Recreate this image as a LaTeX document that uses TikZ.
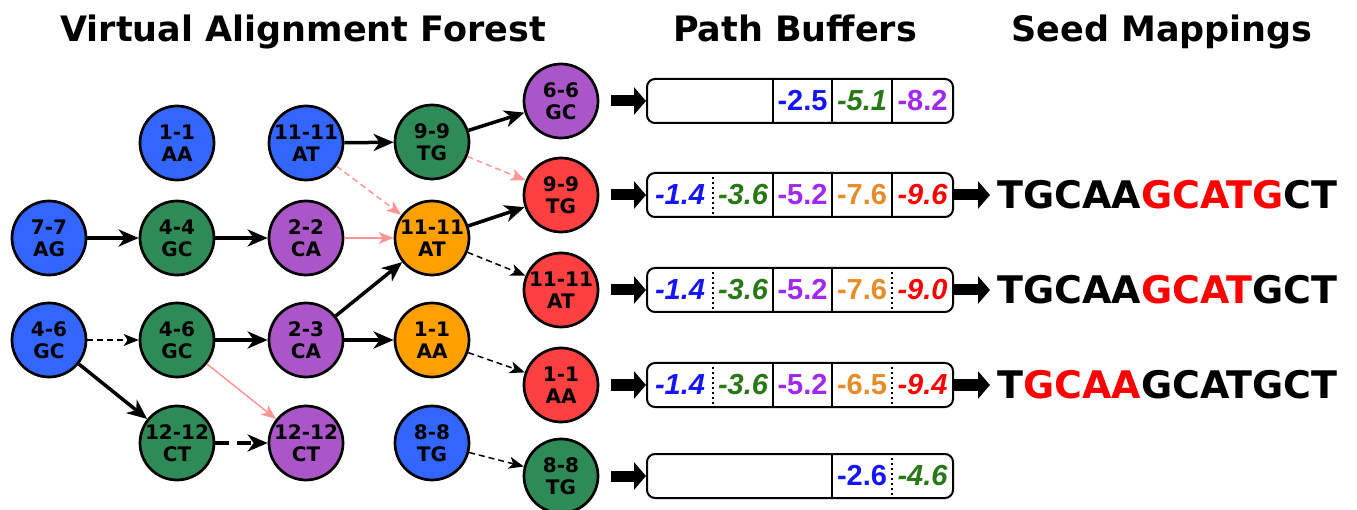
\documentclass[tikz,border=0pt]{standalone}
\usepackage{fontspec}
\setmainfont{DejaVu Sans}
\newfontfamily\numfont{Liberation Sans}
\usetikzlibrary{arrows.meta}
\definecolor{nblue}{RGB}{51,102,255}
\definecolor{ngreen}{RGB}{46,139,87}
\definecolor{npurple}{RGB}{170,85,200}
\definecolor{norange}{RGB}{255,160,0}
\definecolor{nred}{RGB}{255,64,64}
\definecolor{tblue}{RGB}{20,20,255}
\definecolor{tgreen}{RGB}{40,120,20}
\definecolor{tpurple}{RGB}{160,40,240}
\definecolor{torange}{RGB}{230,140,40}
\definecolor{tred}{RGB}{255,0,0}
\definecolor{pinkc}{RGB}{255,150,150}
\tikzset{
  vnode/.style={circle, draw=black, line width=2.7pt, minimum size=74pt, inner sep=0pt, align=center, font=\fontsize{20}{22}\selectfont\bfseries},
  thk/.style={line width=3.5pt, -{Stealth[length=20pt,width=17pt,inset=6pt]}},
  thkd/.style={thk, dash pattern=on 14pt off 8pt},
  dsh/.style={line width=1.5pt, dash pattern=on 6pt off 4pt, -{Stealth[length=15pt,width=12pt,inset=4pt]}},
  pk/.style={draw=pinkc, line width=1.5pt, -{Stealth[length=15pt,width=12pt,inset=4pt]}},
  pkd/.style={pk, dash pattern=on 6pt off 4pt},
  buf/.style={draw, rounded corners=8pt, line width=2pt, minimum width=306pt, minimum height=44pt, inner sep=0pt},
  fat/.style={line width=11pt, -{Triangle[length=12pt,width=27pt]}},
  numi/.style={inner sep=0pt, font=\fontsize{29}{29}\selectfont\numfont\bfseries\itshape},
  numu/.style={inner sep=0pt, font=\fontsize{29}{29}\selectfont\numfont\bfseries},
  sdiv/.style={line width=1.5pt},
  ddiv/.style={line width=1.5pt, dash pattern=on 2pt off 3pt},
  ttl/.style={inner sep=0pt, anchor=base, font=\fontsize{35}{35}\selectfont\bfseries},
  seq/.style={inner sep=0pt, anchor=base west, font=\fontsize{38}{38}\selectfont\bfseries},
}
\begin{document}
\begin{tikzpicture}[x=1pt,y=-1pt]
\useasboundingbox (0,0) rectangle (1357,510);
% titles
\node[ttl] (t1) at (303,42) {Virtual Alignment Forest};
\node[ttl] (t2) at (795,42) {Path Buffers};
\node[ttl] (t3) at (1162,42) {Seed Mappings};
% forest nodes
\node[vnode, fill=nblue] (vb1) at (177,143) {1-1\\AA};
\node[vnode, fill=nblue] (vb2) at (306,143) {11-11\\AT};
\node[vnode, fill=nblue] (vb3) at (49,238) {7-7\\AG};
\node[vnode, fill=nblue] (vb4) at (49,340) {4-6\\GC};
\node[vnode, fill=nblue] (vb5) at (432,443) {8-8\\TG};
\node[vnode, fill=ngreen] (vg1) at (432,142) {9-9\\TG};
\node[vnode, fill=ngreen] (vg2) at (177,238) {4-4\\GC};
\node[vnode, fill=ngreen] (vg3) at (177,340) {4-6\\GC};
\node[vnode, fill=ngreen] (vg4) at (177,443) {12-12\\CT};
\node[vnode, fill=npurple] (vp1) at (306,238) {2-2\\CA};
\node[vnode, fill=npurple] (vp2) at (306,340) {2-3\\CA};
\node[vnode, fill=npurple] (vp3) at (306,443) {12-12\\CT};
\node[vnode, fill=norange] (vo1) at (432,238) {11-11\\AT};
\node[vnode, fill=norange] (vo2) at (432,340) {1-1\\AA};
\node[vnode, fill=npurple] (r1) at (561,101) {6-6\\GC};
\node[vnode, fill=nred] (r2) at (561,195) {9-9\\TG};
\node[vnode, fill=nred] (r3) at (561,290) {11-11\\AT};
\node[vnode, fill=nred] (r4) at (561,385) {1-1\\AA};
\node[vnode, fill=ngreen] (r5) at (561,476) {8-8\\TG};
% forest edges
\draw[thk] (vb2) -- (vg1);
\draw[pkd] (vb2) -- (vo1);
\draw[thk] (vg1) -- (r1);
\draw[pkd] (vg1) -- (r2);
\draw[thk] (vb3) -- (vg2);
\draw[thk] (vg2) -- (vp1);
\draw[pk] (vp1) -- (vo1);
\draw[dsh] (vb4) -- (vg3);
\draw[thk] (vb4) -- (vg4);
\draw[thk] (vg3) -- (vp2);
\draw[pk] (vg3) -- (vp3);
\draw[thkd] (vg4) -- (vp3);
\draw[thk] (vp2) -- (vo1);
\draw[thk] (vp2) -- (vo2);
\draw[thk] (vo1) -- (r2);
\draw[dsh] (vo1) -- (r3);
\draw[dsh] (vo2) -- (r4);
\draw[dsh] (vb5) -- (r5);
% buffers
\node[buf] (b1) at (800,101) {};
\node[buf] (b2) at (800,195) {};
\node[buf] (b3) at (800,290) {};
\node[buf] (b4) at (800,385) {};
\node[buf] (b5) at (800,476) {};
\foreach \r/\b in {r1/b1,r2/b2,r3/b3,r4/b4,r5/b5}
  \draw[fat, shorten <=12pt] (\r) -- (\b);
% row 1
\draw[sdiv] ([xshift=-27pt]b1.north) -- ([xshift=-27pt]b1.south);
\draw[sdiv] ([xshift=32pt]b1.north) -- ([xshift=32pt]b1.south);
\draw[sdiv] ([xshift=92pt]b1.north) -- ([xshift=92pt]b1.south);
\node[numu, tblue] (b1c3) at ([xshift=2.5pt]b1.center) {-2.5};
\node[numi, tgreen] (b1c4) at ([xshift=62pt]b1.center) {-5.1};
\node[numu, tpurple] (b1c5) at ([xshift=122.5pt]b1.center) {-8.2};
% row 2
\draw[ddiv] ([xshift=-87pt]b2.north) -- ([xshift=-87pt]b2.south);
\draw[sdiv] ([xshift=-27pt]b2.north) -- ([xshift=-27pt]b2.south);
\draw[sdiv] ([xshift=32pt]b2.north) -- ([xshift=32pt]b2.south);
\draw[sdiv] ([xshift=92pt]b2.north) -- ([xshift=92pt]b2.south);
\node[numi, tblue] (b2c1) at ([xshift=-120pt]b2.center) {-1.4};
\node[numi, tgreen] (b2c2) at ([xshift=-57pt]b2.center) {-3.6};
\node[numu, tpurple] (b2c3) at ([xshift=2.5pt]b2.center) {-5.2};
\node[numu, torange] (b2c4) at ([xshift=62pt]b2.center) {-7.6};
\node[numi, tred] (b2c5) at ([xshift=122.5pt]b2.center) {-9.6};
% row 3
\draw[ddiv] ([xshift=-87pt]b3.north) -- ([xshift=-87pt]b3.south);
\draw[sdiv] ([xshift=-27pt]b3.north) -- ([xshift=-27pt]b3.south);
\draw[sdiv] ([xshift=32pt]b3.north) -- ([xshift=32pt]b3.south);
\draw[ddiv] ([xshift=92pt]b3.north) -- ([xshift=92pt]b3.south);
\node[numi, tblue] (b3c1) at ([xshift=-120pt]b3.center) {-1.4};
\node[numi, tgreen] (b3c2) at ([xshift=-57pt]b3.center) {-3.6};
\node[numu, tpurple] (b3c3) at ([xshift=2.5pt]b3.center) {-5.2};
\node[numu, torange] (b3c4) at ([xshift=62pt]b3.center) {-7.6};
\node[numi, tred] (b3c5) at ([xshift=122.5pt]b3.center) {-9.0};
% row 4
\draw[ddiv] ([xshift=-87pt]b4.north) -- ([xshift=-87pt]b4.south);
\draw[sdiv] ([xshift=-27pt]b4.north) -- ([xshift=-27pt]b4.south);
\draw[sdiv] ([xshift=32pt]b4.north) -- ([xshift=32pt]b4.south);
\draw[ddiv] ([xshift=92pt]b4.north) -- ([xshift=92pt]b4.south);
\node[numi, tblue] (b4c1) at ([xshift=-120pt]b4.center) {-1.4};
\node[numi, tgreen] (b4c2) at ([xshift=-57pt]b4.center) {-3.6};
\node[numu, tpurple] (b4c3) at ([xshift=2.5pt]b4.center) {-5.2};
\node[numu, torange] (b4c4) at ([xshift=62pt]b4.center) {-6.5};
\node[numi, tred] (b4c5) at ([xshift=122.5pt]b4.center) {-9.4};
% row 5
\draw[sdiv] ([xshift=32pt]b5.north) -- ([xshift=32pt]b5.south);
\draw[ddiv] ([xshift=92pt]b5.north) -- ([xshift=92pt]b5.south);
\node[numu, tblue] (b5c4) at ([xshift=62pt]b5.center) {-2.6};
\node[numi, tgreen] (b5c5) at ([xshift=122.5pt]b5.center) {-4.6};
% seed mappings
\node[seq] (s2) at (997,209) {TGCAA\textcolor{tred}{GCATG}CT};
\node[seq] (s3) at (997,304) {TGCAA\textcolor{tred}{GCAT}GCT};
\node[seq] (s4) at (997,399) {T\textcolor{tred}{GCAA}GCATGCT};
\foreach \b/\s in {b2/s2,b3/s3,b4/s4}
  \draw[fat] (\b.east) -- ([xshift=-7pt]\b.east -| \s.west);
\end{tikzpicture}
\end{document}
